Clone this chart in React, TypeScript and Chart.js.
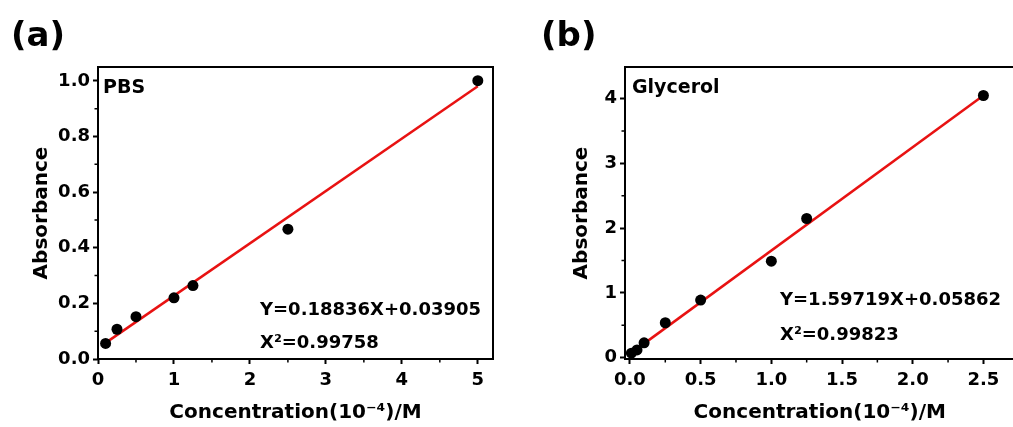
import React, { useEffect, useRef } from 'react';
import { Chart, registerables } from 'chart.js';

Chart.register(...registerables);

// ---------- Panel (a): PBS ----------
const concA = [0.1, 0.25, 0.5, 1.0, 1.25, 2.5, 5.0];
const absA = [0.056, 0.107, 0.152, 0.22, 0.264, 0.467, 1.001];
const fitXA = [0.1, 5.0];
const fitYA = [0.058, 0.981];
const xTicksA = [0, 1, 2, 3, 4, 5];
const xTickLabelsA = ['0', '1', '2', '3', '4', '5'];
const xMinorA = [0.5, 1.5, 2.5, 3.5, 4.5];
const yTicksA = [0, 0.2, 0.4, 0.6, 0.8, 1.0];
const yTickLabelsA = ['0.0', '0.2', '0.4', '0.6', '0.8', '1.0'];
const yMinorA = [0.1, 0.3, 0.5, 0.7, 0.9];

// ---------- Panel (b): Glycerol ----------
const concB = [0.01, 0.05, 0.1, 0.25, 0.5, 1.0, 1.25, 2.5];
const absB = [0.07, 0.12, 0.23, 0.54, 0.89, 1.49, 2.15, 4.05];
const fitXB = [0.02, 2.5];
const fitYB = [0.09, 4.05];
const xTicksB = [0, 0.5, 1.0, 1.5, 2.0, 2.5];
const xTickLabelsB = ['0.0', '0.5', '1.0', '1.5', '2.0', '2.5'];
const xMinorB = [0.25, 0.75, 1.25, 1.75, 2.25];
const yTicksB = [0, 1, 2, 3, 4];
const yTickLabelsB = ['0', '1', '2', '3', '4'];
const yMinorB = [0.5, 1.5, 2.5, 3.5];

const FONT = '"DejaVu Sans", sans-serif';
const X_TITLE = 'Concentration(10\u207B\u2074)/M';
const Y_TITLE = 'Absorbance';

type Note = { text: string; x: number; y: number; size: number };

function decorPlugin(minorX: number[], minorY: number[], notes: Note[]) {
  return {
    id: 'decor',
    afterDatasetsDraw(chart: any) {
      const { ctx, chartArea: a, scales } = chart;
      ctx.save();
      ctx.strokeStyle = '#000';
      ctx.lineWidth = 2;
      ctx.strokeRect(a.left, a.top, a.right - a.left, a.bottom - a.top);
      ctx.lineWidth = 1.5;
      ctx.beginPath();
      minorX.forEach((v) => {
        const x = scales.x.getPixelForValue(v);
        ctx.moveTo(x, a.bottom);
        ctx.lineTo(x, a.bottom + 3.5);
      });
      minorY.forEach((v) => {
        const y = scales.y.getPixelForValue(v);
        ctx.moveTo(a.left, y);
        ctx.lineTo(a.left - 3.5, y);
      });
      ctx.stroke();
      ctx.restore();
    },
    afterDraw(chart: any) {
      const { ctx } = chart;
      ctx.save();
      ctx.fillStyle = '#000';
      ctx.textAlign = 'left';
      ctx.textBaseline = 'alphabetic';
      notes.forEach((n) => {
        ctx.font = `bold ${n.size}px ${FONT}`;
        ctx.fillText(n.text, n.x, n.y);
      });
      ctx.restore();
    },
  };
}

type PanelCfg = {
  conc: number[];
  abs: number[];
  fitX: number[];
  fitY: number[];
  xTicks: number[];
  xLabels: string[];
  xMinor: number[];
  yTicks: number[];
  yLabels: string[];
  yMinor: number[];
  xMin: number;
  xMax: number;
  yMin: number;
  yMax: number;
  yAxisWidth: number;
  yTitlePad: number;
  padRight: number;
  notes: Note[];
};

function makeConfig(p: PanelCfg): any {
  const tickFont = { family: FONT, size: 18, weight: 'bold' as const };
  const titleFont = { family: FONT, size: 20, weight: 'bold' as const };
  return {
    type: 'scatter',
    data: {
      datasets: [
        {
          data: p.conc.map((x, i) => ({ x, y: p.abs[i] })),
          pointRadius: 5.5,
          pointBackgroundColor: '#000',
          pointBorderWidth: 0,
          showLine: false,
        },
        {
          data: p.fitX.map((x, i) => ({ x, y: p.fitY[i] })),
          showLine: true,
          pointRadius: 0,
          borderColor: 'rgb(232,18,18)',
          borderWidth: 2.5,
          fill: false,
        },
      ],
    },
    options: {
      responsive: false,
      animation: false,
      devicePixelRatio: 1,
      layout: { padding: { top: 67, right: p.padRight, bottom: 0, left: 0 } },
      plugins: { legend: { display: false }, tooltip: { enabled: false } },
      scales: {
        x: {
          type: 'linear',
          min: p.xMin,
          max: p.xMax,
          afterBuildTicks: (s: any) => {
            s.ticks = p.xTicks.map((v) => ({ value: v }));
          },
          afterFit: (s: any) => {
            s.height = 68;
          },
          ticks: {
            autoSkip: false,
            maxRotation: 0,
            color: '#000',
            font: tickFont,
            padding: 6,
            callback: (v: number) => p.xLabels[p.xTicks.indexOf(v)] ?? '',
          },
          grid: { drawOnChartArea: false, drawTicks: true, tickLength: 5, tickWidth: 2, tickColor: '#000' },
          border: { display: false },
          title: { display: true, text: X_TITLE, color: '#000', font: titleFont, padding: { top: 0, bottom: 2 } },
        },
        y: {
          type: 'linear',
          min: p.yMin,
          max: p.yMax,
          afterBuildTicks: (s: any) => {
            s.ticks = p.yTicks.map((v) => ({ value: v }));
          },
          afterFit: (s: any) => {
            s.width = p.yAxisWidth;
          },
          ticks: {
            autoSkip: false,
            color: '#000',
            font: tickFont,
            padding: 3,
            callback: (v: number) => p.yLabels[p.yTicks.indexOf(v)] ?? '',
          },
          grid: { drawOnChartArea: false, drawTicks: true, tickLength: 5, tickWidth: 2, tickColor: '#000' },
          border: { display: false },
          title: { display: true, text: Y_TITLE, color: '#000', font: titleFont, padding: { top: p.yTitlePad, bottom: 0 } },
        },
      },
    },
    plugins: [decorPlugin(p.xMinor, p.yMinor, p.notes)],
  };
}

const panelA: PanelCfg = {
  conc: concA,
  abs: absA,
  fitX: fitXA,
  fitY: fitYA,
  xTicks: xTicksA,
  xLabels: xTickLabelsA,
  xMinor: xMinorA,
  yTicks: yTicksA,
  yLabels: yTickLabelsA,
  yMinor: yMinorA,
  xMin: 0,
  xMax: 5.2,
  yMin: 0,
  yMax: 1.05,
  yAxisWidth: 98,
  yTitlePad: 30,
  padRight: 12,
  notes: [
    { text: '(a)', x: 11, y: 46, size: 34 },
    { text: 'PBS', x: 103, y: 93, size: 19 },
    { text: 'Y=0.18836X+0.03905', x: 260, y: 315, size: 18 },
    { text: 'X\u00B2=0.99758', x: 260, y: 348, size: 18 },
  ],
};

const panelB: PanelCfg = {
  conc: concB,
  abs: absB,
  fitX: fitXB,
  fitY: fitYB,
  xTicks: xTicksB,
  xLabels: xTickLabelsB,
  xMinor: xMinorB,
  yTicks: yTicksB,
  yLabels: yTickLabelsB,
  yMinor: yMinorB,
  xMin: -0.035,
  xMax: 2.72,
  yMin: -0.02,
  yMax: 4.49,
  yAxisWidth: 120,
  yTitlePad: 65,
  padRight: 4,
  notes: [
    { text: '(b)', x: 36, y: 46, size: 34 },
    { text: 'Glycerol', x: 127, y: 93, size: 19 },
    { text: 'Y=1.59719X+0.05862', x: 275, y: 305, size: 18 },
    { text: 'X\u00B2=0.99823', x: 275, y: 340, size: 18 },
  ],
};

function Panel({ cfg, left, width }: { cfg: PanelCfg; left: number; width: number }) {
  const ref = useRef<HTMLCanvasElement | null>(null);
  useEffect(() => {
    if (!ref.current) return;
    const chart = new Chart(ref.current, makeConfig(cfg));
    return () => chart.destroy();
  }, [cfg]);
  return (
    <canvas
      ref={ref}
      width={width}
      height={427}
      style={{ position: 'absolute', left, top: 0, width, height: 427, display: 'block' }}
    />
  );
}

export default function App() {
  return (
    <div
      style={{
        position: 'fixed',
        left: 0,
        top: 0,
        width: 1013,
        height: 427,
        overflow: 'hidden',
        background: '#fff',
      }}
    >
      <Panel cfg={panelA} left={0} width={505} />
      <Panel cfg={panelB} left={505} width={515} />
    </div>
  );
}
